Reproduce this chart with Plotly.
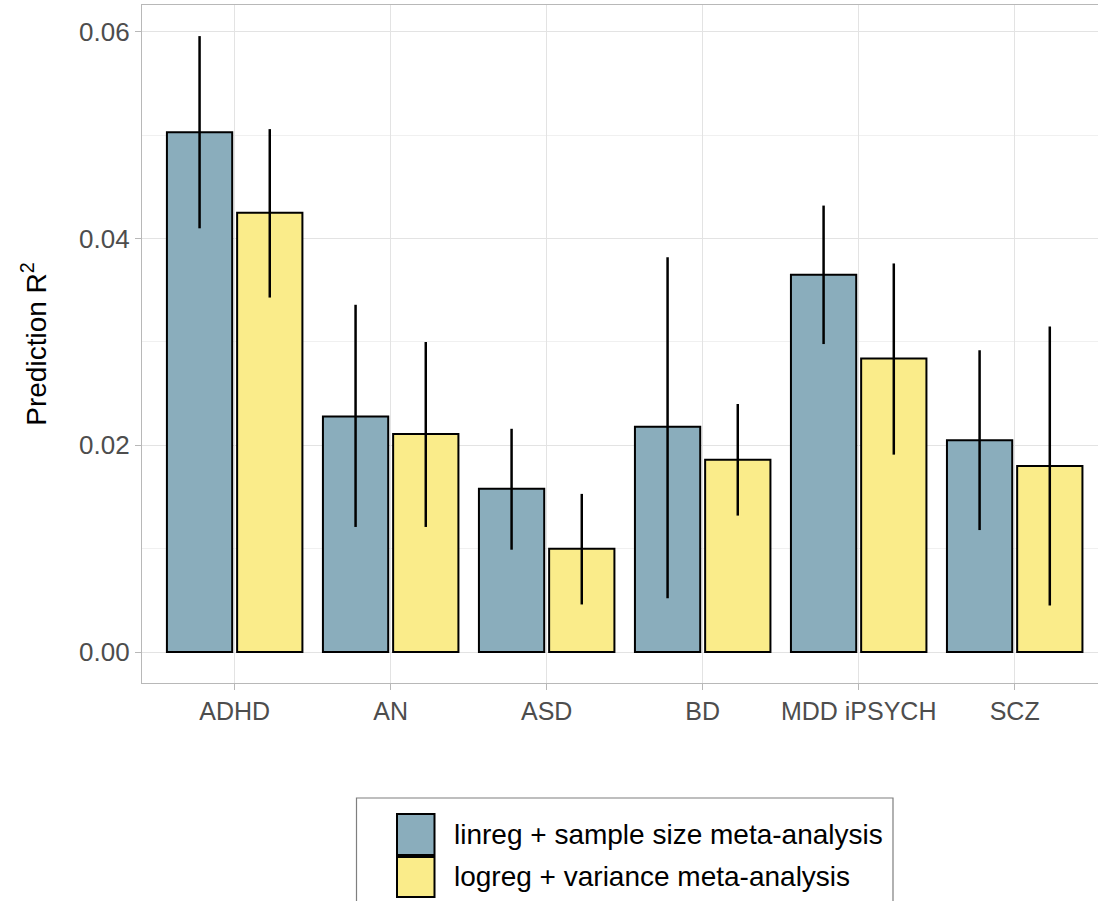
import plotly.graph_objects as go

categories = ["ADHD", "AN", "ASD", "BD", "MDD iPSYCH", "SCZ"]
series_names = ["linreg + sample size meta-analysis", "logreg + variance meta-analysis"]

linreg = [0.0503, 0.0228, 0.0158, 0.0218, 0.0365, 0.0205]
linreg_lo = [0.0410, 0.0121, 0.0099, 0.0052, 0.0298, 0.0118]
linreg_hi = [0.0596, 0.0336, 0.0216, 0.0382, 0.0432, 0.0292]

logreg = [0.0425, 0.0211, 0.0100, 0.0186, 0.0284, 0.0180]
logreg_lo = [0.0343, 0.0121, 0.0046, 0.0132, 0.0191, 0.0045]
logreg_hi = [0.0506, 0.0300, 0.0153, 0.0240, 0.0376, 0.0315]

y_ticks = [0.0, 0.02, 0.04, 0.06]

colors = ["#8AADBC", "#FAEC8A"]

W, H = 1098, 901
L, R, T, B = 142, 0, 5, 218
PW, PH = W - L - R, H - T - B


def px(x):
    return (x - L) / PW


def py(y):
    return (H - B - y) / PH


fig = go.Figure()
for name, vals, lo, hi, col in [
    (series_names[0], linreg, linreg_lo, linreg_hi, colors[0]),
    (series_names[1], logreg, logreg_lo, logreg_hi, colors[1]),
]:
    fig.add_trace(go.Bar(
        x=categories, y=vals, name=name,
        marker=dict(color=col, line=dict(color="black", width=2)),
        error_y=dict(type="data", symmetric=False,
                     array=[h - v for h, v in zip(hi, vals)],
                     arrayminus=[v - l for v, l in zip(vals, lo)],
                     color="black", thickness=2.5, width=0),
        showlegend=False,
    ))

fig.update_layout(
    width=W, height=H,
    margin=dict(l=L, r=R, t=T, b=B, pad=0),
    paper_bgcolor="white", plot_bgcolor="white",
    barmode="group", bargap=0.1, bargroupgap=0.07,
    font=dict(family="Liberation Sans, Arial, sans-serif", color="#4D4D4D"),
    showlegend=False,
)

fig.update_xaxes(
    type="category", range=[-0.594, 5.534],
    showgrid=True, gridcolor="#E3E3E3", gridwidth=1,
    showline=True, mirror=True, linecolor="#B8B8B8", linewidth=1.3,
    ticks="outside", ticklen=6, tickcolor="#B8B8B8",
    tickfont=dict(size=25, color="#4D4D4D"),
    zeroline=False,
)

fig.update_yaxes(
    range=[-0.0030, 0.06261],
    tickvals=y_ticks, tickformat=".2f",
    showgrid=True, gridcolor="#E3E3E3", gridwidth=1,
    minor=dict(dtick=0.01, tick0=0.01, showgrid=True, gridcolor="#F0F0F0", gridwidth=0.8),
    showline=True, linecolor="#B8B8B8", linewidth=1.3,
    ticks="outside", ticklen=6, tickcolor="#B8B8B8",
    tickfont=dict(size=26, color="#4D4D4D"),
    zeroline=False,
    title=dict(text="Prediction R<sup>2</sup>", font=dict(size=28, color="black"), standoff=24),
)

# custom legend (ggplot style, bottom)
shapes = [
    dict(type="rect", xref="paper", yref="paper",
         x0=px(356.5), x1=px(893), y0=py(930), y1=py(798),
         line=dict(color="#7F7F7F", width=1.2), fillcolor="white", layer="above"),
]
annotations = []
rows = [(814, 855, 834.5), (857, 897, 876.5)]
for i, (y0, y1, yc) in enumerate(rows):
    shapes.append(dict(type="rect", xref="paper", yref="paper",
                       x0=px(397), x1=px(434.5), y0=py(y1), y1=py(y0),
                       line=dict(color="black", width=2), fillcolor=colors[i], layer="above"))
    annotations.append(dict(xref="paper", yref="paper", x=px(452), y=py(yc),
                            text=series_names[i], showarrow=False,
                            xanchor="left", yanchor="middle",
                            font=dict(size=28, color="black",
                                      family="Liberation Sans, Arial, sans-serif")))

fig.update_layout(shapes=shapes, annotations=annotations)

fig.write_html("out.html",
               config={"displayModeBar": False},
               post_script="document.body.style.margin='0';document.body.style.overflow='hidden';")
